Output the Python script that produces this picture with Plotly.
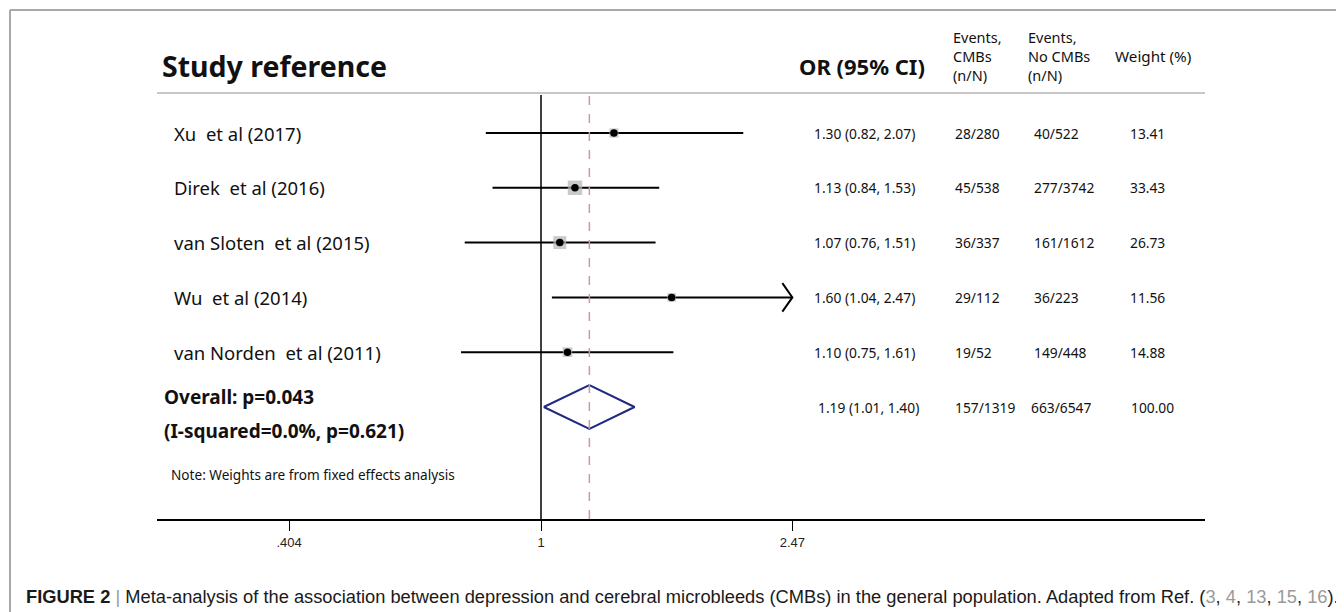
import math
import plotly.graph_objects as go

# ---------------- data ----------------
studies = ["Xu  et al (2017)", "Direk  et al (2016)", "van Sloten  et al (2015)",
           "Wu  et al (2014)", "van Norden  et al (2011)"]
or_est = [1.30, 1.13, 1.07, 1.60, 1.10]
ci_low = [0.82, 0.84, 0.76, 1.04, 0.75]
ci_high = [2.07, 1.53, 1.51, 2.47, 1.61]
events_cmb = ["28/280", "45/538", "36/337", "29/112", "19/52"]
events_nocmb = ["40/522", "277/3742", "161/1612", "36/223", "149/448"]
weights = [13.41, 33.43, 26.73, 11.56, 14.88]

overall_or = 1.19
overall_low = 1.01
overall_high = 1.40
overall_cmb = "157/1319"
overall_nocmb = "663/6547"
overall_weight = "100.00"
overall_p = "0.043"
i_squared = "0.0%"
het_p = "0.621"

tick_vals = [0.404, 1, 2.47]
tick_text = [".404", "1", "2.47"]
axis_max = 2.47  # CI clipped at this value (arrow)

# ---------------- layout geometry ----------------
OFF = 8                                # page body margin
W, H = 1344 - OFF, 612 - OFF
L, R, T, B = 157, 1205, 93, 519        # plot area in window pixels
PX_PER_LN = 278.0
X1_PX = 541.0
ROW0_PX, ROW_STEP = 133.0, 54.8

def px2log10(px):
    return ((px - X1_PX) / PX_PER_LN) / math.log(10)

def px2row(py):
    return 1 + (py - ROW0_PX) / ROW_STEP

def xp(px):
    return (px - L) / (R - L)

def yp(py):
    return (B - py) / (B - T)

FONT = "Noto Sans"
rows = list(range(1, len(studies) + 1))
overall_row = len(studies) + 1

fig = go.Figure()

# CI lines
cx, cy = [], []
for r, lo, hi in zip(rows, ci_low, ci_high):
    cx += [lo, min(hi, axis_max), None]
    cy += [r, r, None]
fig.add_trace(go.Scatter(x=cx, y=cy, mode="lines",
                         line=dict(color="black", width=2), hoverinfo="skip",
                         showlegend=False))

# arrow heads for clipped CIs
for r, hi in zip(rows, ci_high):
    if hi >= axis_max:
        back = axis_max / math.exp(10 / PX_PER_LN)
        fig.add_trace(go.Scatter(x=[back, axis_max, back],
                                 y=[r - 0.26, r, r + 0.26], mode="lines",
                                 line=dict(color="black", width=2),
                                 hoverinfo="skip", showlegend=False))

# weight squares
fig.add_trace(go.Scatter(x=or_est, y=rows, mode="markers",
                         marker=dict(symbol="square", color="#b4b4b4",
                                     size=[2.5 * math.sqrt(w) for w in weights],
                                     line=dict(width=0)),
                         hoverinfo="skip", showlegend=False))
# point estimates
fig.add_trace(go.Scatter(x=or_est, y=rows, mode="markers",
                         marker=dict(symbol="circle", color="black", size=7.5),
                         hoverinfo="skip", showlegend=False))

# overall diamond
dh = 22 / ROW_STEP
fig.add_trace(go.Scatter(
    x=[overall_low, overall_or, overall_high, overall_or, overall_low],
    y=[overall_row, overall_row - dh, overall_row, overall_row + dh, overall_row],
    mode="lines", line=dict(color="#1f2a80", width=2),
    hoverinfo="skip", showlegend=False))

shapes = []
shapes.append(dict(type="line", xref="x", yref="paper", x0=1, x1=1, y0=0, y1=yp(95),
                   line=dict(color="black", width=1.5)))
shapes.append(dict(type="line", xref="x", yref="paper", x0=overall_or, x1=overall_or,
                   y0=0, y1=yp(95), line=dict(color="#c99a9e", width=1.5, dash="dash")))
shapes.append(dict(type="line", xref="paper", yref="paper", x0=0, x1=1, y0=1, y1=1,
                   line=dict(color="#c8c8c8", width=2)))
shapes.append(dict(type="line", xref="paper", yref="paper", x0=xp(10), x1=xp(10),
                   y0=yp(10), y1=yp(640), line=dict(color="#a8a8a8", width=2)))
shapes.append(dict(type="line", xref="paper", yref="paper", x0=xp(10), x1=xp(1360),
                   y0=yp(10), y1=yp(10), line=dict(color="#a8a8a8", width=2)))

ann = []
def add_text(text, px, py, size, bold=False, color="#111111", anchor="left", yref_row=None):
    t = f"<b>{text}</b>" if bold else text
    if yref_row is not None:
        yv, yr = yref_row, "y"
    else:
        yv, yr = yp(py), "paper"
    ann.append(dict(text=t, x=xp(px), xref="paper", y=yv, yref=yr,
                    xanchor=anchor, yanchor="middle", showarrow=False,
                    font=dict(family=FONT, size=size, color=color)))

# headers
add_text("Study reference", 160, 66, 28.5, bold=True)
add_text("OR (95% CI)", 797, 66, 22, bold=True)
for i, line in enumerate(["Events,", "CMBs", "(n/N)"]):
    add_text(line, 951, 37 + 19 * i, 14.5)
for i, line in enumerate(["Events,", "No CMBs", "(n/N)"]):
    add_text(line, 1026, 37 + 19 * i, 14.5)
add_text("Weight (%)", 1113, 56, 15.2)

# study rows
for r, s, o, lo, hi, e1, e2, w in zip(rows, studies, or_est, ci_low, ci_high,
                                      events_cmb, events_nocmb, weights):
    add_text(s, 172, None, 18.5, yref_row=r)
    add_text(f"{o:.2f} ({lo:.2f}, {hi:.2f})", 812, None, 13.8, yref_row=r)
    add_text(e1, 953, None, 13.8, yref_row=r)
    add_text(e2, 1032, None, 13.8, yref_row=r)
    add_text(f"{w:.2f}", 1128, None, 13.8, yref_row=r)

# overall row
add_text(f"{overall_or:.2f} ({overall_low:.2f}, {overall_high:.2f})", 816, None, 13.8,
         yref_row=overall_row)
add_text(overall_cmb, 953, None, 13.8, yref_row=overall_row)
add_text(overall_nocmb, 1029, None, 13.8, yref_row=overall_row)
add_text(overall_weight, 1129, None, 13.8, yref_row=overall_row)
add_text(f"Overall: p={overall_p}", 162, 397, 19, bold=True)
add_text(f"(I-squared={i_squared}, p={het_p})", 162, 431, 19, bold=True)
add_text("Note: Weights are from fixed effects analysis", 169, 474, 13.6)

# caption
gray = "#9a9a9a"
refs = ", ".join(f"<span style='color:{gray}'>{n}</span>" for n in ["3", "4", "13", "15", "16"])
caption = ("<b>FIGURE 2</b> <span style='color:#999999'>|</span> Meta-analysis of the "
           "association between depression and cerebral microbleeds (CMBs) in the general "
           f"population. Adapted from Ref. ({refs}).")
ann.append(dict(text=caption, x=xp(24), xref="paper", y=yp(596), yref="paper",
                xanchor="left", yanchor="middle", showarrow=False,
                font=dict(family="Liberation Sans", size=18.3, color="#1a1a1a")))

fig.update_layout(
    width=W, height=H,
    margin=dict(l=L - OFF, r=(W + OFF) - R, t=T - OFF, b=(H + OFF) - B, pad=0),
    paper_bgcolor="white", plot_bgcolor="white",
    shapes=shapes, annotations=ann, showlegend=False,
    xaxis=dict(type="log", range=[px2log10(L), px2log10(R)],
               tickvals=tick_vals, ticktext=tick_text,
               showgrid=False, zeroline=False, showline=True,
               linecolor="black", linewidth=2, ticks="outside", ticklen=10,
               tickwidth=1, tickcolor="black",
               tickfont=dict(family="Liberation Sans Narrow, Liberation Sans", size=13,
                             color="#222222")),
    yaxis=dict(range=[px2row(B), px2row(T)], visible=False, showgrid=False,
               zeroline=False),
)

fig.write_html("out.html")
